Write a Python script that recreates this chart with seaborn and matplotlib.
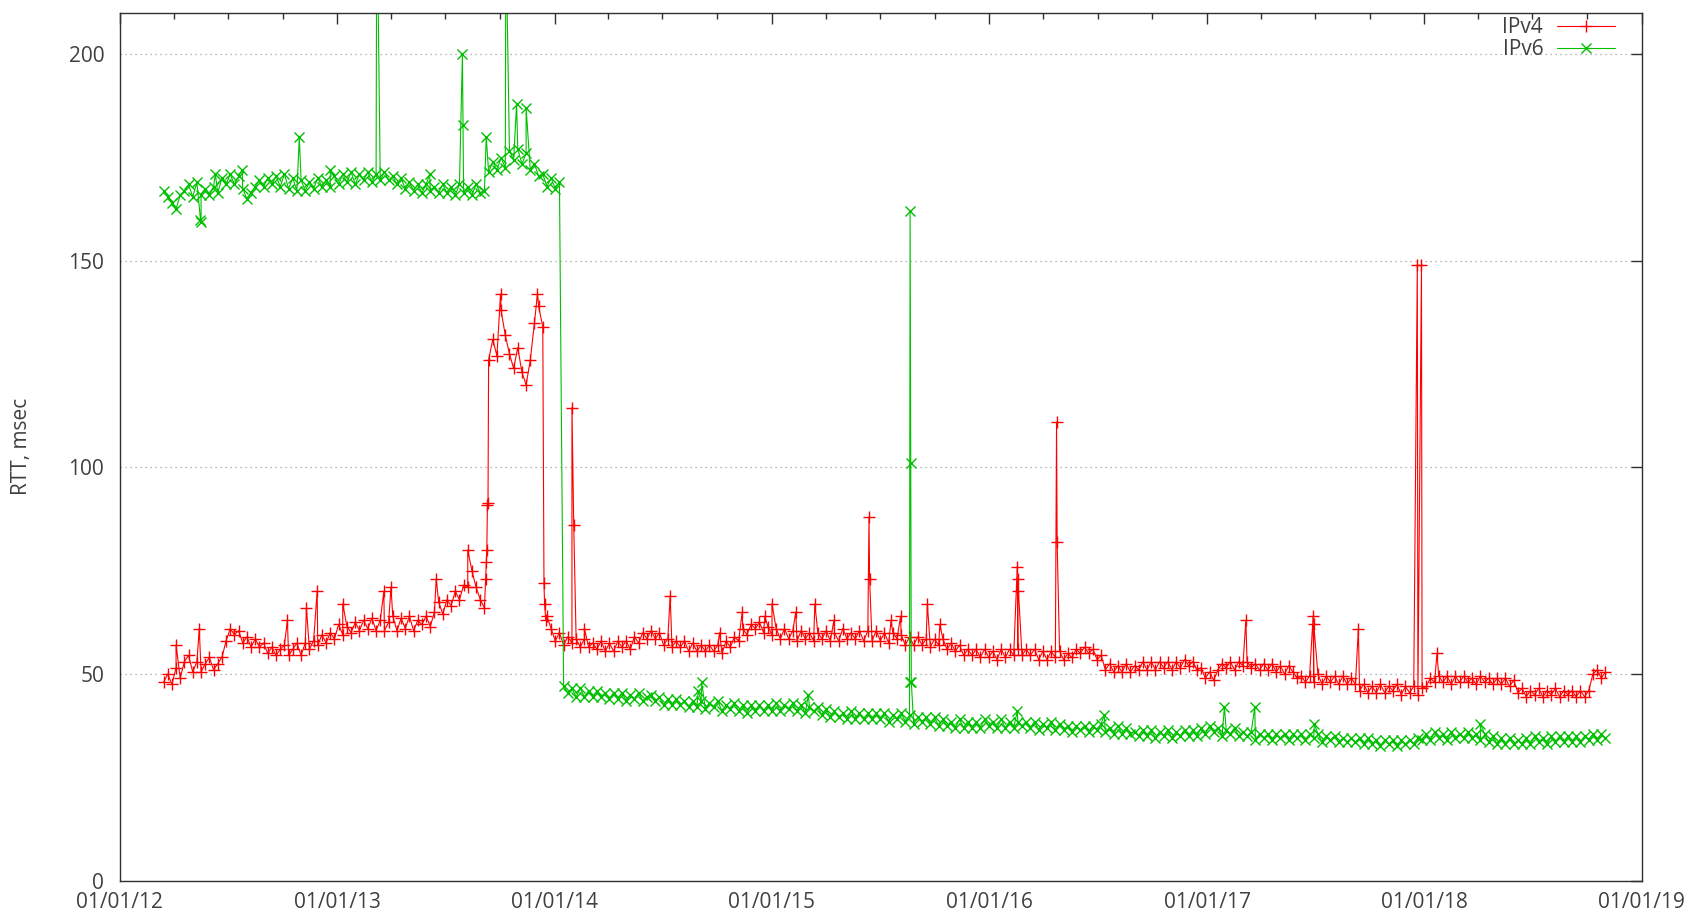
import pandas as pd
import matplotlib
matplotlib.use('Agg')
import matplotlib.pyplot as plt
import matplotlib.dates as mdates
import seaborn as sns

# =============================================================================
#  Data: weekly RTT readings (msec) from 2012-03-15, one row = 13 weeks
# =============================================================================

start_date = '2012-03-15'

ipv4_weekly = [
    48, 50, 47.5, 51.5, 49, 53, 54.5, 50.5, 53, 50.5, 52.5, 54, 51,
    52.5, 54, 58, 61, 59.5, 60.5, 57.5, 59, 56.5, 58.5, 56.5, 57.5, 55,
    56.5, 54.5, 56, 57, 54.5, 56, 57.5, 54.5, 57.5, 56, 58, 57, 59.5,
    57.5, 60, 58.5, 62, 59.5, 61.5, 60, 62.5, 60.5, 63, 61, 63.5, 60.5,
    63, 60.5, 62.5, 64, 60.5, 63.5, 61, 64, 60.5, 63, 62, 64, 61.5,
    65, 67.5, 64.5, 68, 66.5, 70, 68, 71.5, 71, 75, 71, 68, 66,
    126, 131, 127, 138, 132, 127.5, 124, 129, 123, 120, 126, 135, 139,
    134, 64, 61, 58, 60, 57, 59, 57.5, 58.5, 56.5, 58.5, 56.5, 57.5,
    56, 58, 55.5, 57.5, 55.5, 58, 56.5, 58, 56, 59, 57.5, 60, 58.5,
    60.5, 58.5, 60, 57, 58.5, 56.5, 58, 56.5, 58, 55.5, 57.5, 55.5, 57,
    55.5, 57, 55.5, 57, 55, 58, 56.5, 59, 58, 61, 59.5, 62, 61,
    62.5, 60, 61.5, 59.5, 61, 58.5, 61, 58.5, 60.5, 58, 60.5, 58.5, 60,
    58, 60, 58.5, 60.5, 58, 60, 58, 61, 58.5, 60, 58.5, 60.5, 58,
    60.5, 58, 60.5, 58, 60, 57.5, 60, 58.5, 59.5, 57, 59, 57, 59,
    57, 58.5, 56.5, 58.5, 57, 58.5, 56, 57.5, 55.5, 57, 54.5, 56, 54.5,
    56, 54, 56, 54, 55.5, 53.5, 56, 54, 56, 54.5, 56, 54.5, 56,
    54.5, 56, 53.5, 55.5, 53.5, 55.5, 54, 55.5, 53.5, 55, 54, 56, 55,
    56.5, 55, 56, 53.5, 54.5, 51, 52.5, 50.5, 52, 50.5, 52.5, 50.5, 52,
    51, 53, 51, 53, 51, 53, 51.5, 53, 51, 53, 51.5, 53.5, 52,
    53, 51, 51.5, 49, 50.5, 48.5, 51, 52.5, 51.5, 53, 51, 53, 52,
    53, 51.5, 52.5, 51, 52.5, 51, 52.5, 50.5, 52, 50, 52, 50.5, 49,
    49.5, 48, 49.5, 48, 50, 47.5, 49.5, 48, 49.5, 47.5, 49.5, 47.5, 49,
    47.5, 46, 47.5, 45.5, 47, 45.5, 47.5, 45.5, 47, 46, 47.5, 45, 47,
    45.5, 47, 45, 46.5, 47, 49, 48, 49.5, 48, 49.5, 47.5, 49.5, 48,
    49.5, 48, 49, 47.5, 49.5, 48, 49, 47.5, 49, 47.5, 49, 47, 48.5,
    45.5, 46.5, 44.5, 46, 45, 46.5, 44.5, 46, 45, 46.5, 44.5, 46, 45,
    46, 44.5, 46, 44.5, 46, 50, 51, 49, 50.5,
]

ipv6_weekly = [
    167, 165.5, 164, 162.5, 166, 167, 168.5, 165.5, 169, 166, 167.5, 166, 168,
    166.5, 170, 168.5, 171, 168.5, 170.5, 167.5, 165, 166.5, 168, 169.5, 168, 170,
    168.5, 170.5, 168, 171, 167.5, 170, 167, 169.5, 167, 169, 167.5, 170, 168,
    169.5, 168, 170.5, 168.5, 171, 169, 171.5, 168.5, 171, 169.5, 171.5, 169, 171,
    169.5, 171.5, 169.5, 170.5, 168.5, 170, 167.5, 169, 167, 168.5, 166.5, 168.5, 167,
    168, 166.5, 168.5, 166.5, 168, 166, 168.5, 166.5, 168, 166, 168.5, 166.5, 167,
    171.5, 174, 172, 175, 172.5, 176.5, 174.5, 177, 173.5, 176, 172, 173.5, 170.5,
    171, 168, 170, 167.5, 169, 47, 45.5, 46.5, 44.5, 46.5, 44.5, 46, 44.5,
    46, 44.5, 45.5, 44, 45.5, 44, 45.5, 43.5, 45, 44, 45.5, 43.5, 44.5,
    45, 43.5, 44.5, 42.5, 44, 42.5, 44, 42.5, 43.5, 42, 43.5, 42, 43.5,
    41.5, 43, 42, 43.5, 41, 42.5, 41.5, 43, 41, 42.5, 40.5, 42.5, 41,
    42.5, 41, 42.5, 41, 43, 41, 42.5, 41.5, 43, 41, 42.5, 40.5, 42,
    41, 42, 40, 41.5, 39.5, 41, 39.5, 40.5, 39, 41, 39, 40.5, 39,
    40.5, 39, 40.5, 39, 40.5, 38.5, 40, 39, 40.5, 38.5, 40, 38, 39.5,
    38.5, 39.5, 38, 39.5, 37.5, 39, 37.5, 38.5, 37, 39, 37, 38.5, 37,
    38.5, 37, 39, 37.5, 38.5, 37, 39, 37, 38.5, 37, 38.5, 37.5, 38.5,
    37, 38.5, 36.5, 38, 37, 38.5, 36.5, 38, 36.5, 37.5, 36, 37.5, 36.5,
    37.5, 36, 37.5, 36.5, 38, 36, 37, 35.5, 37.5, 35.5, 37, 35.5, 36,
    35, 36.5, 35, 36.5, 34.5, 36, 35, 36.5, 34.5, 36, 35, 36.5, 35,
    36.5, 35, 37, 35.5, 37.5, 36, 37, 35, 36.5, 35.5, 37, 35, 36,
    35, 36, 34, 35.5, 34.5, 35.5, 34, 35.5, 34.5, 35.5, 34, 35.5, 34.5,
    35.5, 34, 35.5, 34.5, 35.5, 33.5, 35, 34, 35, 33.5, 34.5, 33.5, 34.5,
    33.5, 34.5, 33, 34.5, 33, 34, 32.5, 34, 33, 34, 32.5, 34, 33,
    34, 33, 34.5, 34, 35.5, 34, 36, 34.5, 35.5, 34, 36, 34.5, 35.5,
    34.5, 36, 34.5, 35.5, 34, 35.5, 33.5, 35, 33, 34.5, 33, 34.5, 33,
    34, 33, 34.5, 33, 35, 33.5, 34.5, 33, 35, 33.5, 35, 33.5, 35,
    33.5, 35, 33.5, 35, 34, 35.5, 34, 35.5, 34.5,
]

# single-day readings: spikes and fast transitions
ipv4_extra_dates = [
    '2012-04-05', '2012-05-14', '2012-10-09', '2012-11-10', '2012-11-28',
    '2013-01-10', '2013-03-20', '2013-04-01', '2013-06-16', '2013-08-08',
    '2013-09-07', '2013-09-08', '2013-09-09', '2013-09-10', '2013-09-11',
    '2013-10-02', '2013-12-03', '2013-12-14', '2013-12-15', '2013-12-17',
    '2014-01-30', '2014-02-02', '2014-02-20', '2014-07-14', '2014-10-05',
    '2014-11-12', '2014-12-20', '2015-01-01', '2015-02-10', '2015-03-14',
    '2015-04-15', '2015-06-13', '2015-06-14', '2015-07-20', '2015-08-05',
    '2015-09-19', '2015-10-10', '2016-02-17', '2016-02-18', '2016-02-19',
    '2016-04-23', '2016-04-24', '2017-03-07', '2017-06-28', '2017-06-29',
    '2017-09-12', '2017-12-20', '2017-12-27', '2018-01-22',
]
ipv4_extra_vals = [
    57, 61, 63, 66, 70,
    67, 70, 71, 73, 80,
    73, 77, 80, 91, 91.5,
    142, 142, 72, 67, 63,
    114.5, 86, 61, 69, 60,
    65, 64, 67, 65, 67,
    63, 88, 73, 63, 64,
    67, 62, 76, 73, 70,
    111, 82, 63, 64, 62,
    61, 149, 149, 55,
]

ipv6_extra_dates = [
    '2012-05-16', '2012-05-17', '2012-06-10', '2012-07-25', '2012-10-29',
    '2012-12-20', '2013-03-08', '2013-03-09', '2013-06-05', '2013-07-30',
    '2013-07-31', '2013-09-08', '2013-10-11', '2013-10-29', '2013-11-14',
    '2014-08-30', '2014-09-05', '2015-03-03', '2015-08-20', '2015-08-21',
    '2015-08-22', '2015-08-23', '2016-02-17', '2016-07-12', '2017-01-30',
    '2017-03-22', '2017-06-30', '2018-04-05',
]
ipv6_extra_vals = [
    160, 159.5, 171, 172, 180,
    172, 230, 230, 171, 200,
    183, 180, 230, 188, 187,
    46, 48, 45, 48, 162,
    101, 48, 41, 40, 42,
    42, 38, 38,
]


def build_series(weekly, extra_dates, extra_vals):
    weekly_df = pd.DataFrame({
        'date': pd.date_range(start_date, periods=len(weekly), freq='7D'),
        'rtt': weekly,
    })
    extra_df = pd.DataFrame({'date': pd.to_datetime(extra_dates), 'rtt': extra_vals})
    return pd.concat([weekly_df, extra_df]).sort_values('date').reset_index(drop=True)


ipv4 = build_series(ipv4_weekly, ipv4_extra_dates, ipv4_extra_vals)
ipv6 = build_series(ipv6_weekly, ipv6_extra_dates, ipv6_extra_vals)

# =============================================================================
#  Plot
# =============================================================================

sns.set_style('white')
plt.rcParams['font.family'] = ['Open Sans', 'DejaVu Sans']
text_color = '#404040'
red = '#ff0000'
green = '#00c000'
fs = 15

fig, ax = plt.subplots(figsize=(16.88, 9.15), dpi=100)
fig.subplots_adjust(left=0.0708, right=0.9726, top=0.9858, bottom=0.0376)

sns.lineplot(data=ipv4, x='date', y='rtt', ax=ax, estimator=None, color=red,
             linewidth=0.8, marker='+', markersize=9, markeredgewidth=1.0,
             markeredgecolor=red, label='IPv4')
sns.lineplot(data=ipv6, x='date', y='rtt', ax=ax, estimator=None, color=green,
             linewidth=0.8, marker='x', markersize=7.5, markeredgewidth=1.0,
             markeredgecolor=green, label='IPv6')

ax.set_xlim(pd.Timestamp('2012-01-01'), pd.Timestamp('2019-01-01'))
ax.set_ylim(0, 210)
ax.set_yticks([0, 50, 100, 150, 200])

ax.xaxis.set_major_locator(mdates.YearLocator())
ax.xaxis.set_major_formatter(mdates.DateFormatter('%m/%d/%y'))
ax.xaxis.set_minor_locator(mdates.MonthLocator(bymonth=[4, 7, 10]))

ax.tick_params(axis='both', which='major', direction='in', top=True, right=True,
               length=8, width=1, colors='#303030', labelcolor=text_color,
               labelsize=fs)
ax.tick_params(axis='x', which='major', pad=8)
ax.tick_params(axis='y', which='major', pad=11)
ax.tick_params(axis='x', which='minor', direction='in', top=True,
               length=4, width=1, colors='#303030')

ax.yaxis.grid(True, linestyle=(0, (1, 3)), color='#a0a0a0', linewidth=0.9)
ax.xaxis.grid(False)

for spine in ax.spines.values():
    spine.set_color('#303030')
    spine.set_linewidth(1.0)

ax.set_xlabel('')
ax.set_ylabel('RTT, msec', fontsize=fs, color=text_color)
ax.yaxis.set_label_coords(-0.0575, 0.5)

legend = ax.legend(loc='upper right', bbox_to_anchor=(0.9825, 0.995),
                   frameon=False, markerfirst=False, numpoints=1,
                   handlelength=2.8, handletextpad=0.65, labelspacing=0.05,
                   borderaxespad=0, borderpad=0, fontsize=fs)
for text in legend.get_texts():
    text.set_color(text_color)

plt.savefig('out.png', dpi=100)
